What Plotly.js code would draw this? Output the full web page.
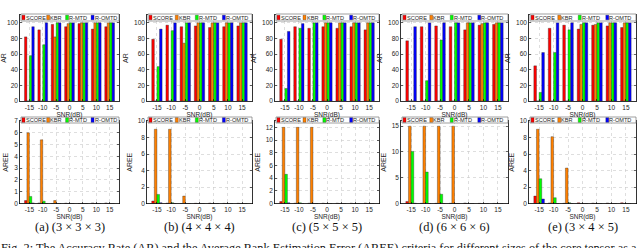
<!DOCTYPE html>
<html><head><meta charset="utf-8">
<script src="https://cdn.plot.ly/plotly-3.0.1.min.js"></script>
<style>html,body{margin:0;padding:0;background:#fff}#chart{width:640px;height:248px}</style>
</head><body><div id="chart"></div>
<script>
// ---------- data ----------
const snr = [-15, -10, -5, 0, 5, 10, 15];
const snrTickText = ['-15', '-10', '-5', '0', '5', '10', '15'];
const methods = ['SCORE', 'KBR', 'R-MTD', 'R-OMTD'];
const panelCaptions = ['(a) (3 × 3 × 3)', '(b) (4 × 4 × 4)', '(c) (5 × 5 × 5)', '(d) (6 × 6 × 6)', '(e) (3 × 4 × 5)'];
const figCaption = 'Fig. 2: The Accuracy Rate (AR) and the Average Rank Estimation Error (AREE) criteria for different sizes of the core tensor as a';

// Accuracy Rate (AR, %)
const AR_a_SCORE = [82, 91, 98, 95, 99, 92, 95];
const AR_a_KBR   = [0, 0, 82, 99, 100, 100, 100];
const AR_a_RMTD  = [58, 72, 100, 100, 100, 100, 100];
const AR_a_ROMTD = [95, 100, 100, 100, 100, 100, 100];

const AR_b_SCORE = [79, 97, 95, 96, 94, 95, 96];
const AR_b_KBR   = [0, 0, 74, 100, 100, 100, 100];
const AR_b_RMTD  = [44, 90, 100, 100, 100, 100, 100];
const AR_b_ROMTD = [92, 100, 100, 100, 100, 100, 100];

const AR_c_SCORE = [79, 95, 93, 95, 93, 95, 91];
const AR_c_KBR   = [0, 0, 0, 100, 100, 100, 100];
const AR_c_RMTD  = [16, 93, 100, 100, 100, 100, 100];
const AR_c_ROMTD = [89, 99, 100, 100, 100, 100, 100];

const AR_d_SCORE = [77, 95, 96, 95, 91, 97, 98];
const AR_d_KBR   = [0, 0, 0, 0, 100, 99, 100];
const AR_d_RMTD  = [0, 26, 78, 100, 100, 100, 100];
const AR_d_ROMTD = [95, 100, 100, 100, 100, 100, 100];

const AR_e_SCORE = [45, 93, 97, 92, 97, 96, 94];
const AR_e_KBR   = [0, 0, 0, 98, 98, 100, 100];
const AR_e_RMTD  = [11, 62, 91, 100, 100, 100, 100];
const AR_e_ROMTD = [62, 100, 100, 100, 100, 100, 100];

// Average Rank Estimation Error (AREE)
const AREE_a_SCORE = [0.25, 0.05, 0, 0.03, 0, 0.05, 0.05];
const AREE_a_KBR   = [6.0, 5.4, 0.25, 0, 0, 0, 0];
const AREE_a_RMTD  = [0.6, 0.2, 0, 0, 0, 0, 0];
const AREE_a_ROMTD = [0.05, 0, 0, 0, 0, 0, 0];

const AREE_b_SCORE = [0.3, 0.05, 0, 0.03, 0.05, 0.02, 0.03];
const AREE_b_KBR   = [9.0, 9.0, 0.9, 0, 0, 0, 0];
const AREE_b_RMTD  = [1.1, 0.1, 0, 0, 0, 0, 0];
const AREE_b_ROMTD = [0.1, 0, 0, 0, 0, 0, 0];

const AREE_c_SCORE = [0.3, 0.05, 0.05, 0.05, 0.05, 0.05, 0.07];
const AREE_c_KBR   = [12, 12, 12, 0, 0, 0, 0];
const AREE_c_RMTD  = [4.6, 0.1, 0, 0, 0, 0, 0];
const AREE_c_ROMTD = [0.1, 0, 0, 0, 0, 0, 0];

const AREE_d_SCORE = [0.4, 0.05, 0.04, 0.05, 0.1, 0.03, 0.02];
const AREE_d_KBR   = [15, 15, 15, 15, 0, 0, 0];
const AREE_d_RMTD  = [10.1, 6.1, 1.8, 0, 0, 0, 0];
const AREE_d_ROMTD = [0.05, 0, 0, 0, 0, 0, 0];

const AREE_e_SCORE = [0.9, 0.07, 0.03, 0.08, 0.05, 0.06, 0.08];
const AREE_e_KBR   = [9.0, 8.1, 4.3, 0, 0, 0, 0];
const AREE_e_RMTD  = [3.0, 0.7, 0.1, 0, 0, 0, 0];
const AREE_e_ROMTD = [0.55, 0, 0, 0, 0, 0, 0];

const AR_sets = [
  [AR_a_SCORE, AR_a_KBR, AR_a_RMTD, AR_a_ROMTD],
  [AR_b_SCORE, AR_b_KBR, AR_b_RMTD, AR_b_ROMTD],
  [AR_c_SCORE, AR_c_KBR, AR_c_RMTD, AR_c_ROMTD],
  [AR_d_SCORE, AR_d_KBR, AR_d_RMTD, AR_d_ROMTD],
  [AR_e_SCORE, AR_e_KBR, AR_e_RMTD, AR_e_ROMTD]
];
const AREE_sets = [
  [AREE_a_SCORE, AREE_a_KBR, AREE_a_RMTD, AREE_a_ROMTD],
  [AREE_b_SCORE, AREE_b_KBR, AREE_b_RMTD, AREE_b_ROMTD],
  [AREE_c_SCORE, AREE_c_KBR, AREE_c_RMTD, AREE_c_ROMTD],
  [AREE_d_SCORE, AREE_d_KBR, AREE_d_RMTD, AREE_d_ROMTD],
  [AREE_e_SCORE, AREE_e_KBR, AREE_e_RMTD, AREE_e_ROMTD]
];
const AREE_max  = [7, 10, 13, 16, 10];
const AREE_dtick = [1, 2, 2, 5, 2];

// ---------- style / layout ----------
const colors = ['#ff0000', '#ff8000', '#00ff00', '#0000ff'];
const W = 640, H = 248;
const colLeft  = [20, 147, 275, 401, 529];
const colRight = [119, 252, 379, 508, 636];
const rowTop = [15, 121], rowBottom = [101, 203.5];
const px = x => x / W, py = y => (H - y) / H;
const sans = 'Liberation Sans, Arial, sans-serif';
const serif = 'Liberation Serif, Times New Roman, serif';
const legendFrac = [0.01, 0.262, 0.455, 0.715];

const traces = [];
const layout = {
  width: W, height: H,
  margin: {l: 0, r: 0, t: 0, b: 0},
  paper_bgcolor: '#fff', plot_bgcolor: '#fff',
  barmode: 'group', bargap: 0.27, bargroupgap: 0,
  showlegend: false,
  font: {family: sans, size: 7, color: '#262626'},
  shapes: [], annotations: []
};

function axisBase() {
  return {
    showline: true, mirror: 'ticks', linecolor: '#000', linewidth: 0.8,
    ticks: 'inside', ticklen: 2, tickwidth: 0.6, tickcolor: '#000',
    showgrid: true, gridcolor: '#c8c8c8', griddash: 'dot', gridwidth: 0.6,
    zeroline: false, fixedrange: true,
    tickfont: {family: sans, size: 6.5, color: '#262626'}
  };
}

for (let row = 0; row < 2; row++) {
  for (let p = 0; p < 5; p++) {
    const k = row * 5 + p + 1;
    const xs = k === 1 ? '' : String(k);
    const sets = row === 0 ? AR_sets[p] : AREE_sets[p];
    sets.forEach((vals, m) => {
      traces.push({
        type: 'bar', x: snr, y: vals, name: methods[m],
        xaxis: 'x' + xs, yaxis: 'y' + xs,
        marker: {color: colors[m], line: {color: '#222', width: 0.35}},
        hoverinfo: 'skip'
      });
    });
    layout['xaxis' + xs] = Object.assign(axisBase(), {
      domain: [px(colLeft[p]), px(colRight[p])],
      anchor: 'y' + xs,
      range: [-18.5, 18.5],
      tickvals: snr, ticktext: snrTickText,
      title: {text: 'SNR(dB)', font: {family: sans, size: 6.5, color: '#262626'}, standoff: 0}
    });
    const yax = Object.assign(axisBase(), {
      domain: [py(rowBottom[row]), py(rowTop[row])],
      anchor: 'x' + xs,
      title: {text: row === 0 ? 'AR' : 'AREE', font: {family: sans, size: 7, color: '#262626'}, standoff: 4}
    });
    if (row === 0) { yax.range = [0, 110]; yax.tickvals = [0, 20, 40, 60, 80, 100]; }
    else { yax.range = [0, AREE_max[p]]; yax.dtick = AREE_dtick[p]; yax.tick0 = 0; }
    layout['yaxis' + xs] = yax;

    // legend box drawn with shapes + text annotations
    const lx0 = colLeft[p] + 1, lx1 = colRight[p];
    const ly0 = row === 0 ? 14 : 117, ly1 = row === 0 ? 21 : 123;
    layout.shapes.push({type: 'rect', xref: 'paper', yref: 'paper', layer: 'above',
      x0: px(lx0), x1: px(lx1), y0: py(ly1), y1: py(ly0),
      fillcolor: '#fff', line: {color: '#777', width: 0.7}});
    const lw = lx1 - lx0, ymid = (ly0 + ly1) / 2;
    methods.forEach((name, m) => {
      const sx = lx0 + legendFrac[m] * lw;
      layout.shapes.push({type: 'rect', xref: 'paper', yref: 'paper', layer: 'above',
        x0: px(sx), x1: px(sx + 3), y0: py(ymid + 2.3), y1: py(ymid - 2.3),
        fillcolor: colors[m], line: {color: '#222', width: 0.3}});
      layout.annotations.push({xref: 'paper', yref: 'paper', x: px(sx + 2.6), y: py(ymid),
        xanchor: 'left', yanchor: 'middle', showarrow: false, text: name,
        borderpad: 0, font: {family: sans, size: 5.6, color: '#262626'}});
    });
  }
}

panelCaptions.forEach((c, p) => {
  layout.annotations.push({xref: 'paper', yref: 'paper',
    x: px((colLeft[p] + colRight[p]) / 2), y: py(227), xanchor: 'center', yanchor: 'middle',
    showarrow: false, text: c, font: {family: serif, size: 12.4, color: '#111'}});
});
layout.annotations.push({xref: 'paper', yref: 'paper', x: px(-1), y: py(238.5),
  xanchor: 'left', yanchor: 'top', showarrow: false, text: figCaption,
  font: {family: serif, size: 12.3, color: '#111'}});

Plotly.newPlot('chart', traces, layout, {staticPlot: true, displayModeBar: false});
</script>
</body></html>
